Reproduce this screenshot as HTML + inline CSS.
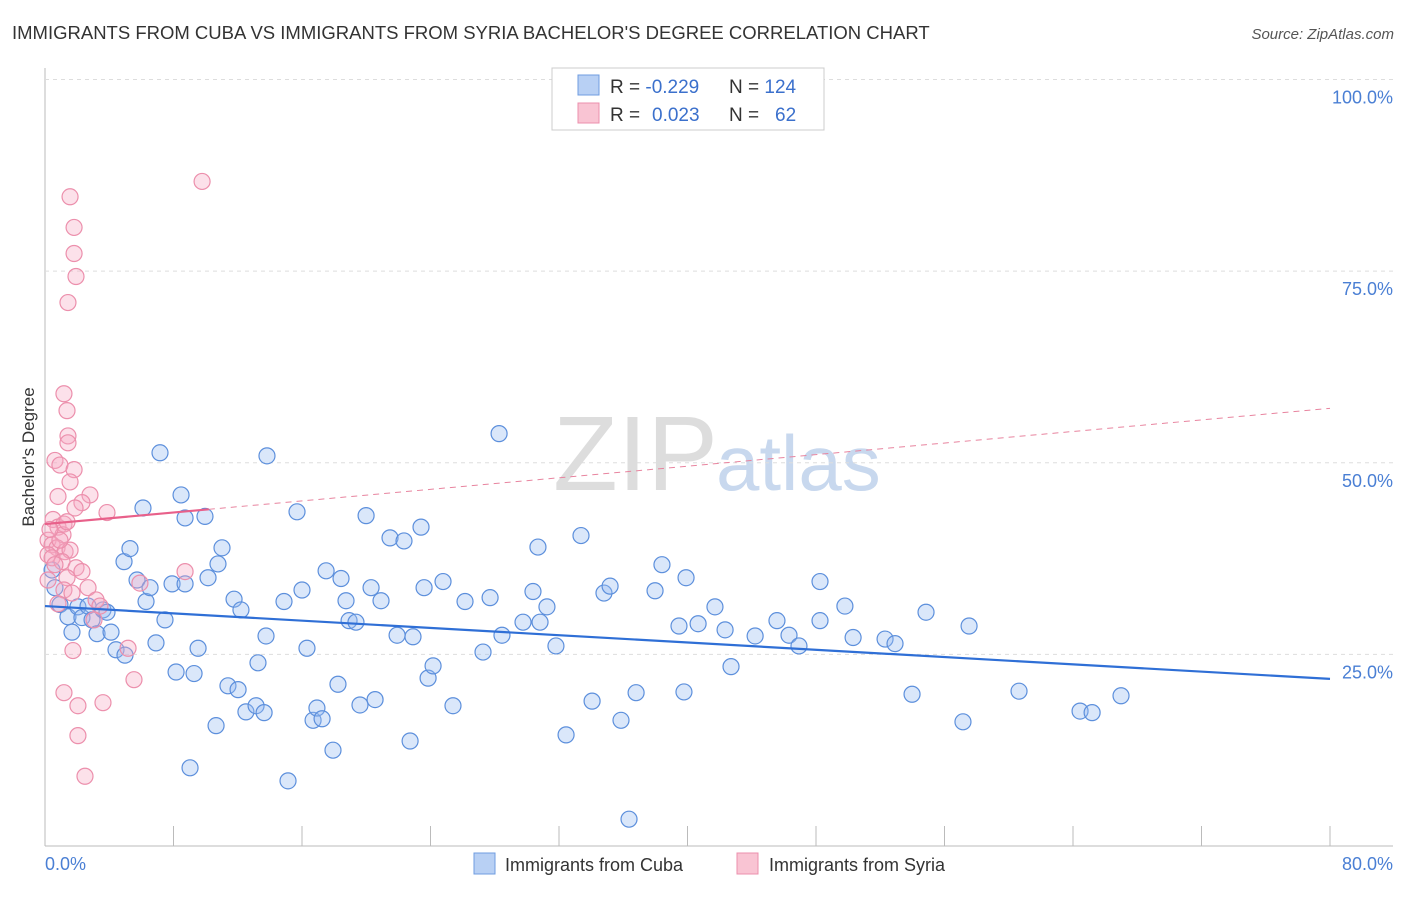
<!DOCTYPE html>
<html><head><meta charset="utf-8"><style>
body{margin:0;background:#fff;font-family:"Liberation Sans",sans-serif;}
svg text{font-family:"Liberation Sans",sans-serif;}
</style></head><body>
<svg id="c" width="1406" height="892" viewBox="0 0 1406 892">
<text x="12" y="39" font-size="18.5" fill="#333">IMMIGRANTS FROM CUBA VS IMMIGRANTS FROM SYRIA BACHELOR'S DEGREE CORRELATION CHART</text>
<text x="1394" y="39" font-size="15" fill="#555" text-anchor="end" font-style="italic">Source: ZipAtlas.com</text>
<text x="553" y="490" font-size="106" fill="#ddd" font-family="Liberation Serif">ZIP</text>
<text x="716" y="490" font-size="78" fill="#c8d8ee">atlas</text>
<g id="grid"></g><g id="marks"></g>
<text transform="translate(34,457) rotate(-90)" font-size="17" fill="#333" text-anchor="middle">Bachelor's Degree</text>
<text x="45" y="870" font-size="18" fill="#4a7fd4">0.0%</text>
<text x="1393" y="870" font-size="18" fill="#4a7fd4" text-anchor="end">80.0%</text>
<g>
<rect x="552" y="68" width="272" height="62" fill="#fff" stroke="#ccc"/>
<rect x="578" y="75" width="21" height="20" fill="#b8d0f4" stroke="#6f9ce0"/>
<rect x="578" y="103" width="21" height="20" fill="#f9c4d3" stroke="#ec8fac"/>
<text x="610" y="93" font-size="19" fill="#333">R = <tspan fill="#3b70cc">-0.229</tspan><tspan x="729">N = </tspan><tspan fill="#3b70cc">124</tspan></text>
<text x="610" y="121" font-size="19" fill="#333">R = <tspan x="652" fill="#3b70cc">0.023</tspan><tspan x="729">N = </tspan><tspan x="775" fill="#3b70cc">62</tspan></text>
</g>
<g>
<rect x="474" y="853" width="21" height="21" fill="#b8d0f4" stroke="#6f9ce0"/>
<text x="505" y="871" font-size="18" fill="#333">Immigrants from Cuba</text>
<rect x="737" y="853" width="21" height="21" fill="#f9c4d3" stroke="#ec8fac"/>
<text x="769" y="871" font-size="18" fill="#333">Immigrants from Syria</text>
</g>
</svg>
<script>
const yTicks=[25,50,75,100];
const xTicks=[0,8,16,24,32,40,48,56,64,72,80];
const cubaX=[0.44,0.62,0.93,1.43,1.68,2.05,2.3,2.68,2.93,3.24,3.61,3.86,4.11,4.42,4.98,4.92,5.29,5.73,6.1,6.29,6.54,6.91,7.16,7.47,7.91,8.16,8.47,8.72,8.72,9.03,9.28,9.53,9.96,10.15,10.65,10.77,11.02,11.39,11.77,12.02,12.2,12.51,13.14,13.26,13.64,13.76,13.82,14.88,15.69,16,16.31,15.13,16.69,16.93,17.25,17.5,17.93,18.24,18.43,18.74,18.93,19.36,19.99,19.61,20.3,20.55,20.92,21.48,21.92,22.35,22.91,23.41,23.6,23.85,24.16,22.73,24.78,25.4,26.15,27.27,27.71,28.27,28.45,29.76,30.38,30.69,30.82,31.25,31.81,32.44,33.37,34.06,34.8,35.18,35.86,36.36,36.8,37.98,38.41,39.47,39.78,39.91,40.66,41.71,42.34,42.71,44.21,45.57,46.32,46.94,48.25,48.25,49.8,50.31,52.3,52.92,53.98,54.85,57.15,57.53,60.64,64.44,65.19,66.99];
const cubaY=[36,33.7,31.5,29.9,27.9,31.2,29.8,31.3,29.5,27.7,30.8,30.5,27.9,25.6,24.9,37.1,38.8,34.7,44.1,31.9,33.7,26.5,51.3,29.5,34.2,22.7,45.8,42.8,34.2,10.2,22.5,25.8,43,35,15.7,36.8,38.9,20.9,32.2,20.4,30.8,17.5,18.3,23.9,17.4,27.4,50.9,31.9,43.6,33.4,25.8,8.5,16.4,18,16.6,35.9,12.5,21.1,34.9,32,29.4,29.2,43.1,18.4,33.7,19.1,32,40.2,27.5,39.8,27.3,41.6,33.7,21.9,23.5,13.7,34.5,18.3,31.9,25.3,32.4,53.8,27.5,29.2,33.2,39,29.2,31.2,26.1,14.5,40.5,18.9,33,33.9,16.4,3.5,20,33.3,36.7,28.7,20.1,35,29,31.2,28.2,23.4,27.4,29.4,27.5,26.1,34.5,29.4,31.3,27.2,27,26.4,19.8,30.5,16.2,28.7,20.2,17.6,17.4,19.6];
const syriaX=[1.56,1.81,1.81,1.93,1.43,1.18,1.37,1.43,1.43,0.62,0.93,1.81,1.56,0.81,2.8,2.3,1.87,3.86,0.5,0.81,1.18,1.12,0.19,0.44,0.75,1.25,1.56,0.19,0.44,1.06,1.93,2.3,1.37,1.18,2.68,1.68,3.18,3.42,0.81,3.05,5.91,8.72,5.17,1.74,5.54,1.18,2.05,3.61,2.05,2.49,9.78,0.19,0.62,0.93,1.37,0.31];
const syriaY=[84.7,80.7,77.3,74.3,70.9,59,56.8,53.5,52.6,50.3,49.7,49.1,47.5,45.6,45.8,44.8,44.1,43.5,42.6,41.6,42,40.6,39.9,39.3,38.9,38.4,38.6,38,37.6,37.1,36.3,35.8,35,33.4,33.7,33,32.1,31.3,31.6,29.5,34.3,35.8,25.8,25.5,21.7,20,18.3,18.7,14.4,9.1,86.7,34.7,36.7,39.9,42.3,41.3];
const cubaTrend=[31.3,21.8];
const syriaTrend=[42,57.1];
const L=45,R=1330,T=79.5,B=846;
const sx=v=>L+(v/80)*(R-L), sy=v=>B-(v/100)*(B-T);
const NS='http://www.w3.org/2000/svg';
const grid=document.getElementById('grid'), marks=document.getElementById('marks');
function mk(p,tag,a){const e=document.createElementNS(NS,tag);for(const k in a)e.setAttribute(k,a[k]);p.appendChild(e);return e;}
let ax=mk(grid,'line',{x1:L,y1:68,x2:L,y2:B,stroke:'#bbb'});


let bx=mk(grid,'line',{x1:L,y1:B,x2:1393,y2:B,stroke:'#bbb'});


yTicks.forEach(t=>{
 const g=mk(grid,'line',{x1:L,y1:sy(t),x2:1393,y2:sy(t),stroke:'#ddd','stroke-dasharray':'4,4'});
 
 
 const tx=mk(grid,'text',{x:1393,y:sy(t)+24,'font-size':18,fill:'#4a7fd4','text-anchor':'end'});
 tx.textContent=t.toFixed(1)+'%';
 
 
});
xTicks.forEach(t=>{
 const k=mk(grid,'line',{x1:sx(t),y1:B,x2:sx(t),y2:B-20,stroke:'#bbb'});
 
 
});
cubaX.forEach((x,i)=>{
 const c=mk(marks,'circle',{cx:sx(x),cy:sy(cubaY[i]),r:8,fill:'rgba(150,185,240,0.35)',stroke:'#5c8fdc','stroke-width':1.2});
 
 
});
syriaX.forEach((x,i)=>{
 const c=mk(marks,'circle',{cx:sx(x),cy:sy(syriaY[i]),r:8,fill:'rgba(245,170,195,0.35)',stroke:'#ec8fac','stroke-width':1.2});
 
 
});
let l1=mk(marks,'line',{x1:sx(0),y1:sy(cubaTrend[0]),x2:sx(80),y2:sy(cubaTrend[1]),stroke:'#2f6fd6','stroke-width':2.2});


const sAt=x=>syriaTrend[0]+(syriaTrend[1]-syriaTrend[0])*x/80;
let l2=mk(marks,'line',{x1:sx(0),y1:sy(sAt(0)),x2:sx(10.2),y2:sy(sAt(10.2)),stroke:'#e8608a','stroke-width':2.2});


let l3=mk(marks,'line',{x1:sx(10.2),y1:sy(sAt(10.2)),x2:sx(80),y2:sy(sAt(80)),stroke:'#e8849f','stroke-width':1,'stroke-dasharray':'6,5'});


</script>
</body></html>
